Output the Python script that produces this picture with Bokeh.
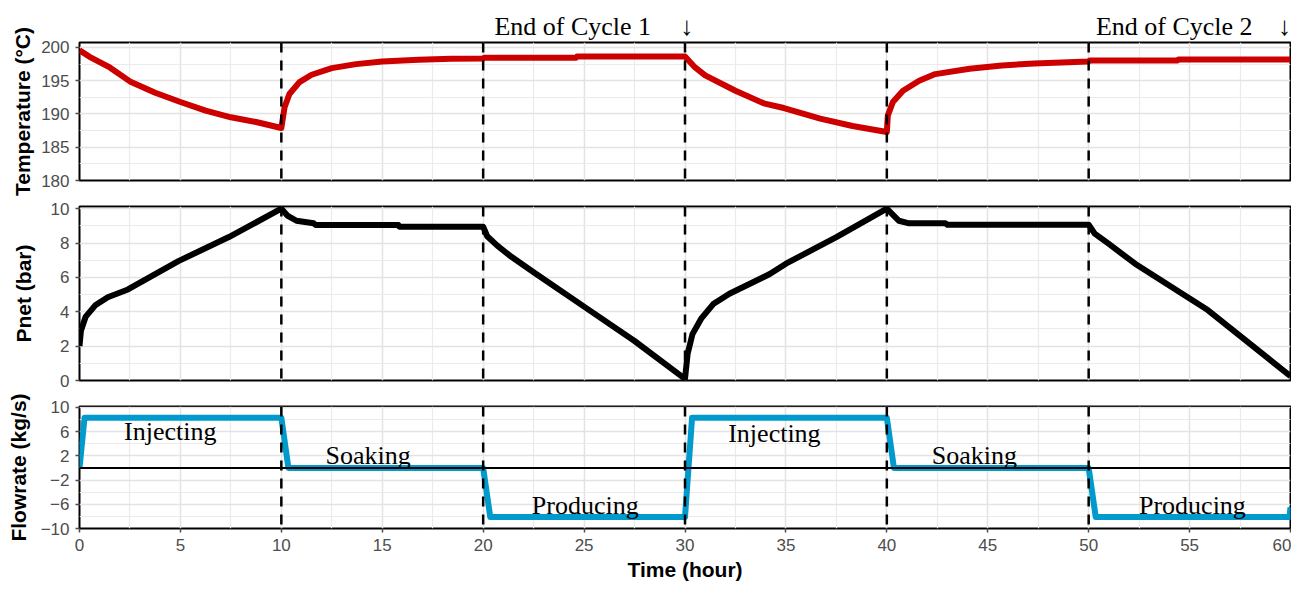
from bokeh.plotting import figure
from bokeh.models import Range1d, FixedTicker, Span, Label, LinearAxis
from bokeh.layouts import column
from bokeh.embed import file_html
from bokeh.resources import INLINE

# ---------------- data ----------------
temp_time = [0, 0.5, 1.0, 1.5, 2.5, 3.75, 5.0, 6.25, 7.5, 8.75, 10.0,
             10.16, 10.4, 10.9, 11.5, 12.5, 13.7, 15.0, 16.8, 18.4, 20.0,
             20.05, 24.6, 24.65, 30.0,
             30.5, 31.0, 32.5, 33.9, 34.9, 36.7, 38.3, 40.0,
             40.05, 40.3, 40.8, 41.6, 42.4, 44.1, 45.7, 47.3, 50.0,
             50.05, 54.4, 54.45, 60.0]
temp_value = [199.6, 198.6, 197.8, 197.0, 194.9, 193.2, 191.8, 190.5, 189.5, 188.8, 187.9,
              191.0, 193.0, 194.8, 195.9, 196.9, 197.5, 197.9, 198.15, 198.3, 198.35,
              198.45, 198.45, 198.65, 198.65,
              197.0, 195.8, 193.5, 191.6, 190.9, 189.3, 188.2, 187.3,
              189.8, 191.8, 193.5, 195.0, 196.0, 196.8, 197.3, 197.6, 197.9,
              198.05, 198.05, 198.2, 198.2]

pnet_time = [0, 0.07, 0.3, 0.8, 1.4, 2.4, 4.9, 7.4, 10.0,
             10.3, 10.75, 11.6, 11.7, 15.8, 15.85, 20.0,
             20.2, 20.7, 21.4, 22.5, 25.0, 27.5, 30.0,
             30.13, 30.37, 30.8, 31.4, 32.2, 34.2, 35.0, 37.5, 40.0,
             40.6, 41.1, 42.9, 43.0, 50.0,
             50.3, 51.0, 52.3, 55.9, 60.0]
pnet_value = [2.0, 2.9, 3.7, 4.4, 4.85, 5.3, 6.95, 8.35, 10.0,
              9.6, 9.3, 9.15, 9.05, 9.05, 8.95, 8.95,
              8.4, 7.85, 7.2, 6.3, 4.3, 2.3, 0.1,
              1.55, 2.7, 3.6, 4.45, 5.05, 6.2, 6.8, 8.35, 10.0,
              9.3, 9.15, 9.15, 9.07, 9.07,
              8.55, 7.95, 6.8, 4.1, 0.25]

flow_time = [0.0, 0.25, 10.0, 10.35, 20.0, 20.35, 30.0, 30.35, 40.0, 40.35,
             50.0, 50.35, 59.95, 60.0]
flow_value = [0.0, 8.3, 8.3, 0.0, 0.0, -8.1, -8.1, 8.3, 8.3, 0.0,
              0.0, -8.1, -8.1, -6.5]

phase_ends = [10, 20, 30, 40, 50]

x_ticks = [0, 5, 10, 15, 20, 25, 30, 35, 40, 45, 50, 55, 60]
x_minor = [2.5, 7.5, 12.5, 17.5, 22.5, 27.5, 32.5, 37.5, 42.5, 47.5, 52.5, 57.5]
temp_ticks = [180, 185, 190, 195, 200]
temp_minor = [182.5, 187.5, 192.5, 197.5]
pnet_ticks = [0, 2, 4, 6, 8, 10]
pnet_minor = [1, 3, 5, 7, 9]
flow_ticks = [-10, -6, -2, 2, 6, 10]
flow_minor = [-8, -4, 0, 4, 8]

phase_names = ["Injecting", "Soaking", "Producing", "Injecting", "Soaking", "Producing"]
phase_label_x = [4.5, 14.3, 25.06, 34.43, 44.34, 55.14]
phase_label_y = [5.95, 2.05, -6.15, 5.65, 2.1, -6.15]

cycle_names = ["End of Cycle 1", "End of Cycle 2"]
cycle_label_x = [24.44, 54.24]
cycle_arrow_x = [30.09, 59.7]

# ---------------- styling helpers ----------------
SANS = "Liberation Sans"
SERIF = "Liberation Serif"
TICK_COLOR = "#4D4D4D"
W = 1291
LEFT = 79
RIGHT = 1

x_range = Range1d(0, 60)


def make_fig(height, y0, y1, top, bottom, ticks, minor, ylabel, label_standoff):
    p = figure(width=W, height=height, x_range=x_range, y_range=Range1d(y0, y1),
               output_backend="svg", toolbar_location=None,
               min_border_left=LEFT, min_border_right=RIGHT,
               min_border_top=top, min_border_bottom=bottom)
    p.outline_line_color = "black"
    p.outline_line_width = 2
    p.outline_line_alpha = 1.0
    p.background_fill_color = "white"
    p.border_fill_color = "white"

    p.yaxis.ticker = FixedTicker(ticks=ticks, minor_ticks=minor)
    p.ygrid.ticker = FixedTicker(ticks=ticks, minor_ticks=minor)
    p.xgrid.ticker = FixedTicker(ticks=x_ticks, minor_ticks=x_minor)
    p.xaxis.ticker = FixedTicker(ticks=x_ticks, minor_ticks=x_minor)

    for g in (p.xgrid, p.ygrid):
        g.grid_line_color = "#E3E3E3"
        g.grid_line_width = 1.5
        g.minor_grid_line_color = "#EBEBEB"
        g.minor_grid_line_width = 1.2

    for ax in (p.xaxis, p.yaxis):
        ax.axis_line_color = None
        ax.major_tick_line_color = TICK_COLOR
        ax.major_tick_line_width = 1.5
        ax.major_tick_out = 4
        ax.major_tick_in = 0
        ax.minor_tick_line_color = None
        ax.major_label_text_font = SANS
        ax.major_label_text_font_size = "17px"
        ax.major_label_text_color = TICK_COLOR
        ax.axis_label_text_font = SANS
        ax.axis_label_text_font_size = "21px"
        ax.axis_label_text_font_style = "bold"
        ax.axis_label_text_color = "black"

    p.yaxis.axis_label = ylabel
    p.yaxis.major_label_standoff = 6
    p.yaxis.axis_label_standoff = label_standoff

    for t in phase_ends:
        p.add_layout(Span(location=t, dimension="height", line_color="black",
                          line_width=2.5, line_dash="10 8"))
    return p


# ---------------- panel 1: temperature ----------------
p1 = make_fig(200, 180, 200.75, 42, 20, temp_ticks, temp_minor, "Temperature (°C)", 4)
p1.xaxis.visible = False
p1.line(temp_time, temp_value, line_color="#CD0000", line_width=6, line_join="round")

# cycle annotations drawn as labels of an axis above the top panel
cycle_ticks = cycle_label_x + cycle_arrow_x
cycle_texts = cycle_names + ["↓"] * len(cycle_arrow_x)
top_axis = LinearAxis(ticker=FixedTicker(ticks=cycle_ticks, minor_ticks=[]),
                      major_label_overrides=dict(zip(cycle_ticks, cycle_texts)))
top_axis.axis_line_color = None
top_axis.major_tick_line_color = None
top_axis.minor_tick_line_color = None
top_axis.major_tick_out = 0
top_axis.major_tick_in = 0
top_axis.major_label_standoff = 2
top_axis.major_label_text_font = SERIF
top_axis.major_label_text_font_size = "26px"
top_axis.major_label_text_color = "black"
p1.add_layout(top_axis, "above")

# ---------------- panel 2: Pnet ----------------
p2 = make_fig(192, 0, 10.13, 6, 12, pnet_ticks, pnet_minor, "Pnet (bar)", 13)
p2.xaxis.visible = False
p2.line(pnet_time, pnet_value, line_color="black", line_width=6, line_join="round")

# ---------------- panel 3: flowrate ----------------
p3 = make_fig(196, -10, 10.15, 14, 60, flow_ticks, flow_minor, "Flowrate (kg/s)", 8)
p3.add_layout(Span(location=0, dimension="width", line_color="black", line_width=2))
p3.line(flow_time, flow_value, line_color="#009ACD", line_width=6, line_join="round")
p3.xaxis.axis_label = "Time (hour)"
p3.xaxis.major_label_standoff = 6
p3.xaxis.axis_label_standoff = 4

for name, lx, ly in zip(phase_names, phase_label_x, phase_label_y):
    p3.add_layout(Label(x=lx, y=ly, text=name, text_font=SERIF,
                        text_font_size="26px", text_color="black",
                        text_align="center", text_baseline="alphabetic"))

layout = column(p1, p2, p3, spacing=0)
open("out.html", "w").write(file_html(layout, INLINE))
